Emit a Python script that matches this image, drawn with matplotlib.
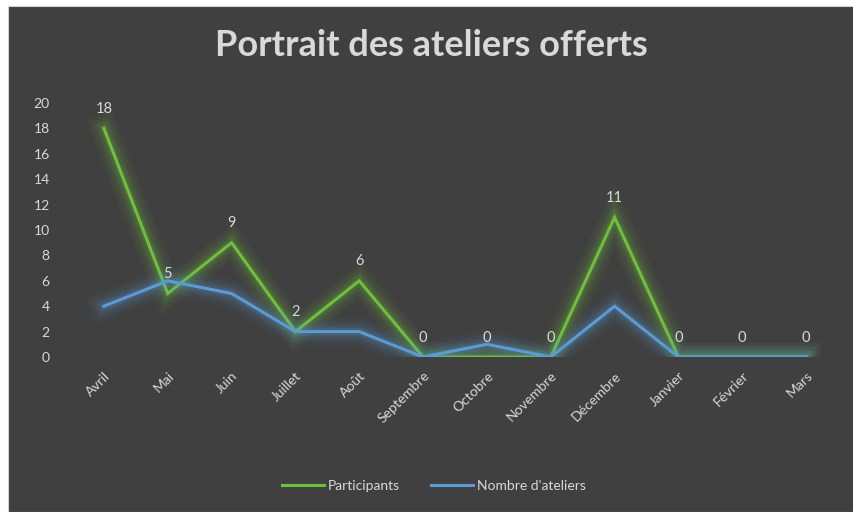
import matplotlib
matplotlib.use("Agg")
import matplotlib.pyplot as plt
import matplotlib.patheffects as pe
from matplotlib.patches import Rectangle
from matplotlib.lines import Line2D

months = ["Avril", "Mai", "Juin", "Juillet", "Août", "Septembre", "Octobre",
          "Novembre", "Décembre", "Janvier", "Février", "Mars"]
participants = [18, 5, 9, 2, 6, 0, 0, 0, 11, 0, 0, 0]
ateliers = [4, 6, 5, 2, 2, 0, 1, 0, 4, 0, 0, 0]
yticks = list(range(0, 21, 2))

plt.rcParams['font.family'] = ['Lato', 'DejaVu Sans']
bg = "#404040"
txt = "#d9d9d9"
green = "#70bf3c"
blue = "#5b9bd5"

fig = plt.figure(figsize=(8.54, 5.12), dpi=100)
fig.patch.set_facecolor("white")
fig.patches.append(Rectangle((8/854, 0), 1 - 8/854, 1 - 6/512, transform=fig.transFigure,
                             facecolor=bg, edgecolor="#d0d0d0", linewidth=0.8, zorder=-10))

ax = fig.add_axes([72/854, (512-357)/512, 766/854, (357-103)/512])
ax.set_facecolor("none")
ax.set_zorder(2)
x = list(range(len(months)))

def glow(color):
    return [pe.Stroke(linewidth=20, foreground=color, alpha=0.05),
            pe.Stroke(linewidth=15, foreground=color, alpha=0.07),
            pe.Stroke(linewidth=10, foreground=color, alpha=0.10),
            pe.Stroke(linewidth=6, foreground=color, alpha=0.14),
            pe.Normal()]

ax.plot(x, participants, color=green, linewidth=2.2,
        path_effects=glow(green), solid_joinstyle="miter", zorder=3)
ax.plot(x, ateliers, color=blue, linewidth=2.2,
        path_effects=glow(blue), solid_joinstyle="miter", zorder=3)

for xi, v in zip(x, participants):
    ax.annotate(str(v), (xi, v), xytext=(0, 9), textcoords="offset points",
                ha="center", va="bottom", color=txt, fontsize=10.5)

ax.set_xlim(-0.5, len(months) - 0.5)
ax.set_ylim(0, 20)
ax.set_yticks(yticks)
ax.set_yticklabels([str(t) for t in yticks])
ax.set_xticks(x)
ax.set_xticklabels(months, rotation=45, ha="right", rotation_mode="anchor")
for s in ax.spines.values():
    s.set_visible(False)
ax.tick_params(axis="both", length=0, colors=txt, labelsize=10)
ax.tick_params(axis="y", pad=16)
ax.tick_params(axis="x", pad=9)

fig.text(431/854, 1 - 46/512, "Portrait des ateliers offerts", ha="center", va="center",
         color=txt, fontsize=26, fontweight="bold", zorder=5)

handles = [Line2D([], [], color=green, linewidth=2.2, label="Participants"),
           Line2D([], [], color=blue, linewidth=2.2, label="Nombre d'ateliers")]
leg = fig.legend(handles=handles, loc="center", bbox_to_anchor=(434/854, 1 - 486/512), ncol=2,
                 frameon=False, fontsize=10, labelcolor=txt, handlelength=3.0,
                 handletextpad=0.3, columnspacing=2.2)
leg.set_zorder(5)

fig.savefig("out.png", dpi=100, facecolor=fig.get_facecolor())
